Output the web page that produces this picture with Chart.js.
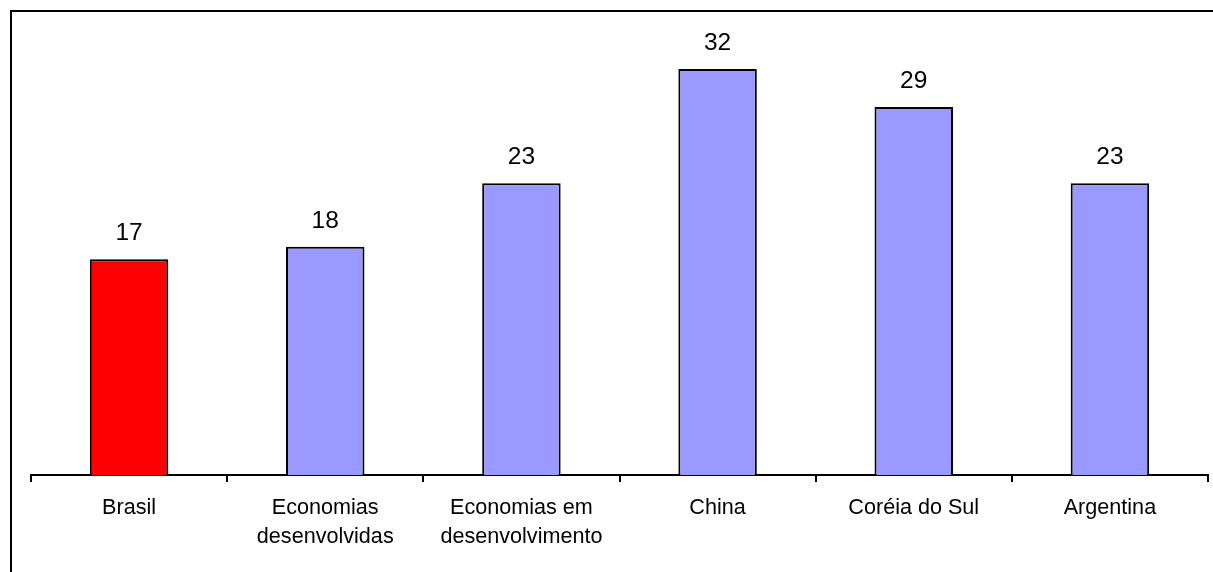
<!DOCTYPE html>
<html>
<head>
<meta charset="utf-8">
<script src="https://cdn.jsdelivr.net/npm/chart.js@4/dist/chart.umd.min.js"></script>
<style>
  html, body { margin: 0; padding: 0; background: #fff; }
  #c { display: block; }
</style>
</head>
<body>
<canvas id="c" width="1213" height="572"></canvas>
<script>
const categories = [
  'Brasil',
  ['Economias', 'desenvolvidas'],
  ['Economias em', 'desenvolvimento'],
  'China',
  'Coréia do Sul',
  'Argentina'
];
const values = [17, 18, 23, 32, 29, 23];
const barColors = ['#FF0000', '#9999FF', '#9999FF', '#9999FF', '#9999FF', '#9999FF'];

const FONT = '"Liberation Sans", Arial, sans-serif';

const framePlugin = {
  id: 'frame',
  beforeDraw(chart) {
    const ctx = chart.ctx;
    ctx.save();
    ctx.fillStyle = '#fff';
    ctx.fillRect(0, 0, chart.width, chart.height);
    ctx.strokeStyle = '#000';
    ctx.lineWidth = 2;
    ctx.strokeRect(11, 11, chart.width + 20, chart.height + 20);
    ctx.restore();
  }
};

const labelPlugin = {
  id: 'valueLabels',
  afterDatasetsDraw(chart) {
    const ctx = chart.ctx;
    const meta = chart.getDatasetMeta(0);
    ctx.save();
    ctx.fillStyle = '#000';
    ctx.font = '24.5px ' + FONT;
    ctx.textAlign = 'center';
    ctx.textBaseline = 'alphabetic';
    meta.data.forEach((bar, i) => {
      ctx.fillText(String(values[i]), bar.x, bar.y - 19);
    });
    ctx.restore();
  }
};

new Chart(document.getElementById('c'), {
  type: 'bar',
  data: {
    labels: categories,
    datasets: [{
      data: values,
      backgroundColor: barColors,
      borderColor: '#000',
      borderWidth: 2,
      barPercentage: 0.4,
      categoryPercentage: 1.0
    }]
  },
  options: {
    responsive: false,
    animation: false,
    devicePixelRatio: 1,
    layout: { padding: { left: 31, right: 5, top: 31, bottom: 0 } },
    plugins: {
      legend: { display: false },
      tooltip: { enabled: false }
    },
    scales: {
      y: { display: false, min: 0, max: 35 },
      x: {
        offset: true,
        grid: {
          offset: true,
          drawOnChartArea: false,
          drawTicks: true,
          tickLength: 7,
          color: '#000',
          lineWidth: 2
        },
        border: { display: true, color: '#000', width: 2 },
        ticks: {
          color: '#000',
          padding: 12,
          maxRotation: 0,
          autoSkip: false,
          font: { family: FONT, size: 21.6, lineHeight: 1.34 }
        },
        afterFit(scale) { scale.height = 97; }
      }
    }
  },
  plugins: [framePlugin, labelPlugin]
});
</script>
</body>
</html>
